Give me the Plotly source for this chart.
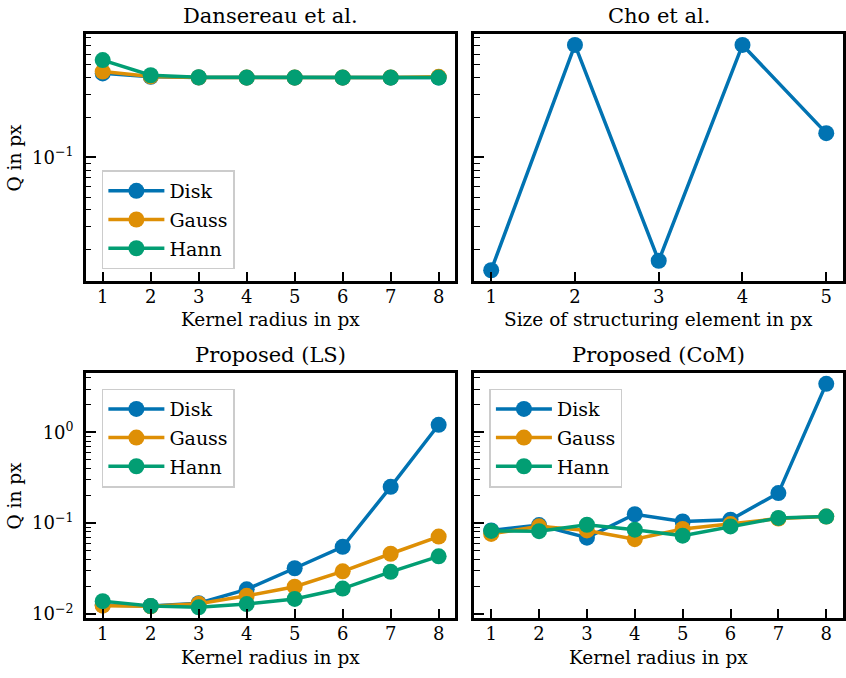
import numpy as np
import plotly.graph_objects as go

# ---------------- data ----------------
kernel_radius = [1, 2, 3, 4, 5, 6, 7, 8]
struct_size = [1, 2, 3, 4, 5]

dansereau_disk = [0.430, 0.405, 0.400, 0.399, 0.399, 0.399, 0.399, 0.400]
dansereau_gauss = [0.444, 0.408, 0.401, 0.400, 0.400, 0.400, 0.401, 0.405]
dansereau_hann = [0.542, 0.416, 0.402, 0.400, 0.400, 0.400, 0.400, 0.400]

cho_disk = [0.0140, 0.705, 0.0165, 0.705, 0.152]

ls_disk = [0.0125, 0.0122, 0.0131, 0.0186, 0.0318, 0.0547, 0.251, 1.21]
ls_gauss = [0.0123, 0.0121, 0.0129, 0.0158, 0.0199, 0.0294, 0.0459, 0.071]
ls_hann = [0.0138, 0.0122, 0.0118, 0.0128, 0.0146, 0.0190, 0.0290, 0.043]

com_disk = [0.083, 0.095, 0.0690, 0.125, 0.104, 0.109, 0.214, 3.42]
com_gauss = [0.0760, 0.0920, 0.0830, 0.0665, 0.0860, 0.0975, 0.112, 0.118]
com_hann = [0.0820, 0.0815, 0.0958, 0.0845, 0.0727, 0.0918, 0.114, 0.118]

series_names = ["Disk", "Gauss", "Hann"]
titles = ["Dansereau et al.", "Cho et al.", "Proposed (LS)", "Proposed (CoM)"]
xlabels = ["Kernel radius in px", "Size of structuring element in px",
           "Kernel radius in px", "Kernel radius in px"]
ylabel = "Q in px"
top_ytick_vals = [0.1]
top_ytick_text = ["10<sup>−1</sup>"]
bot_ytick_vals = [0.01, 0.1, 1]
bot_ytick_text = ["10<sup>−2</sup>", "10<sup>−1</sup>", "10<sup>0</sup>"]

# ---------------- style ----------------
COLORS = ["#0173B2", "#DE8F05", "#029E73"]
FONT = "DejaVu Serif"
W, H = 846, 678

# panel pixel boxes (left, top, right, bottom)
boxes = [(86, 34, 456, 284), (475, 34, 844, 284),
         (86, 376, 456, 624), (475, 376, 844, 624)]


def dom(b):
    l, t, r, bt = b
    return [l / W, r / W], [1 - bt / H, 1 - t / H]


def log_range(*arrs, pad=0.05):
    v = np.log10(np.concatenate([np.asarray(a, float) for a in arrs]))
    lo, hi = v.min(), v.max()
    s = hi - lo
    return [lo - pad * s, hi + pad * s]


def lin_range(x, pad=0.05):
    lo, hi = min(x), max(x)
    s = hi - lo
    return [lo - pad * s, hi + pad * s]


fig = go.Figure()

panels = [
    (kernel_radius, [dansereau_disk, dansereau_gauss, dansereau_hann], "legend"),
    (struct_size, [cho_disk], None),
    (kernel_radius, [ls_disk, ls_gauss, ls_hann], "legend2"),
    (kernel_radius, [com_disk, com_gauss, com_hann], "legend3"),
]

for i, (xs, ys_list, leg) in enumerate(panels):
    ax = "" if i == 0 else str(i + 1)
    for j, ys in enumerate(ys_list):
        fig.add_trace(go.Scatter(
            x=xs, y=ys, mode="lines+markers", name=series_names[j],
            line=dict(color=COLORS[j], width=3.5),
            marker=dict(color=COLORS[j], size=16),
            xaxis="x" + ax, yaxis="y" + ax,
            showlegend=leg is not None,
            legend=leg if leg else "legend",
            legendgroup=f"{leg}_{j}",
        ))

top_range = log_range(dansereau_disk, dansereau_gauss, dansereau_hann, cho_disk)
bot_range = log_range(ls_disk, ls_gauss, ls_hann, com_disk, com_gauss, com_hann)
minor_vals = [k * 10.0 ** e for e in range(-3, 2) for k in range(2, 10)]

layout = dict(
    width=W, height=H, margin=dict(l=0, r=0, t=0, b=0),
    paper_bgcolor="white", plot_bgcolor="white",
    font=dict(family=FONT, size=18, color="black"),
)

for i, b in enumerate(boxes):
    xd, yd = dom(b)
    ax = "" if i == 0 else str(i + 1)
    xs = panels[i][0]
    layout["xaxis" + ax] = dict(
        domain=xd, anchor="y" + ax, range=lin_range(xs),
        tickmode="array", tickvals=xs, ticks="inside", ticklen=10, tickwidth=1.8,
        tickcolor="black", showline=True, linecolor="black", linewidth=2.5,
        mirror=True, showgrid=False, zeroline=False,
        tickfont=dict(family=FONT, size=18), ticklabelstandoff=-3,
    )
    top = i < 2
    layout["yaxis" + ax] = dict(
        domain=yd, anchor="x" + ax, type="log",
        range=top_range if top else bot_range,
        tickmode="array",
        tickvals=top_ytick_vals if top else bot_ytick_vals,
        ticktext=top_ytick_text if top else bot_ytick_text,
        ticks="inside", ticklen=10, tickwidth=1.8, tickcolor="black",
        minor=dict(tickmode="array", tickvals=minor_vals, ticks="inside",
                   ticklen=5.5, tickwidth=1.3, tickcolor="black", showgrid=False),
        showline=True, linecolor="black", linewidth=2.5, mirror=True,
        showgrid=False, zeroline=False,
        showticklabels=(i % 2 == 0),
        tickfont=dict(family=FONT, size=18), ticklabelstandoff=6,
    )

leg_common = dict(
    bgcolor="rgba(255,255,255,0.8)", bordercolor="#cccccc", borderwidth=1.5,
    font=dict(family=FONT, size=19), xanchor="left", yanchor="top",
    tracegroupgap=1, itemwidth=56,
)
layout["legend"] = dict(x=102 / W, y=1 - 172 / H, **leg_common)
layout["legend2"] = dict(x=102 / W, y=1 - 392 / H, **leg_common)
layout["legend3"] = dict(x=490 / W, y=1 - 392 / H, **leg_common)

annotations = []
title_y = [16, 16, 358, 358]
xlabel_y = [322, 322, 663, 663]
for i, b in enumerate(boxes):
    l, t, r, bt = b
    annotations.append(dict(text=titles[i], x=(l + r) / 2 / W, y=1 - title_y[i] / H,
                            xref="paper", yref="paper", showarrow=False,
                            xanchor="center", yanchor="middle",
                            font=dict(family=FONT, size=21)))
    annotations.append(dict(text=xlabels[i], x=(l + r) / 2 / W, y=1 - xlabel_y[i] / H,
                            xref="paper", yref="paper", showarrow=False,
                            xanchor="center", yanchor="middle",
                            font=dict(family=FONT, size=18.5)))
    if i % 2 == 0:
        annotations.append(dict(text=ylabel, x=15 / W, y=1 - (t + bt) / 2 / H,
                                xref="paper", yref="paper", showarrow=False,
                                xanchor="center", yanchor="middle", textangle=-90,
                                font=dict(family=FONT, size=18.5)))
layout["annotations"] = annotations

fig.update_layout(**layout)
fig.write_html("out.html",
               config={"displayModeBar": False},
               post_script="document.body.style.margin='0px';"
                           "document.body.style.overflow='hidden';")
